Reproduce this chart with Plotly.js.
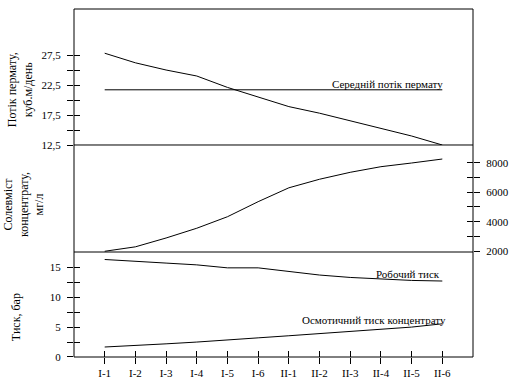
<!DOCTYPE html>
<html>
<head>
<meta charset="utf-8">
<script src="https://cdn.plot.ly/plotly-3.0.1.min.js"></script>
<style>html,body{margin:0;padding:0;background:#fff;}#chart{width:514px;height:382px;}</style>
</head>
<body>
<div id="chart"></div>
<script>
const categories = ['I-1','I-2','I-3','I-4','I-5','I-6','II-1','II-2','II-3','II-4','II-5','II-6'];
const permeateFlux = [27.8, 26.2, 25.0, 24.0, 22.1, 20.5, 18.9, 17.8, 16.5, 15.3, 14.0, 12.5];
const meanPermeateFlux = [21.7, 21.7, 21.7, 21.7, 21.7, 21.7, 21.7, 21.7, 21.7, 21.7, 21.7, 21.7];
const concentrateTDS = [2000, 2300, 2900, 3560, 4340, 5360, 6300, 6880, 7350, 7730, 7980, 8250];
const workingPressure = [16.3, 16.05, 15.7, 15.4, 14.9, 14.9, 14.3, 13.7, 13.3, 13.05, 12.8, 12.7];
const osmoticPressure = [1.67, 1.9, 2.2, 2.5, 2.8, 3.2, 3.55, 3.9, 4.3, 4.6, 5.0, 5.55];

const fluxTickVals = [12.5, 15, 17.5, 20, 22.5, 25, 27.5];
const fluxTickText = ['12,5', '', '17,5', '', '22,5', '', '27,5'];
const tdsTickVals = [2000, 3000, 4000, 5000, 6000, 7000, 8000];
const tdsTickText = ['2000', '', '4000', '', '6000', '', '8000'];
const presTickVals = [0, 2.5, 5, 7.5, 10, 12.5, 15];
const presTickText = ['0', '', '5', '', '10', '', '15'];

const labels = {
  flux: 'Потік пермату,<br>куб.м/день',
  tds: 'Солевміст<br>концентрату,<br>мг/л',
  pres: 'Тиск, бар',
  mean: 'Середній потік пермату',
  working: 'Робочий тиск',
  osmotic: 'Осмотичний тиск концентрату'
};

const xIdx = categories.map((c, i) => i);
const FONT = '"Liberation Serif", "Times New Roman", Times, serif';
const line = {color: '#000', width: 1};

function tr(y, ya) {
  return {x: xIdx, y: y, xaxis: 'x', yaxis: ya, type: 'scatter', mode: 'lines', line: line, hoverinfo: 'skip', showlegend: false};
}

const data = [
  tr(permeateFlux, 'y'),
  tr(meanPermeateFlux, 'y'),
  tr(concentrateTDS, 'y2'),
  tr(workingPressure, 'y3'),
  tr(osmoticPressure, 'y3'),
  {x: [], y: [], xaxis: 'x', yaxis: 'y4', type: 'scatter', showlegend: false},
  {x: [], y: [], xaxis: 'x', yaxis: 'y5', type: 'scatter', showlegend: false},
  {x: [], y: [], xaxis: 'x', yaxis: 'y6', type: 'scatter', showlegend: false},
  {x: [], y: [], xaxis: 'x2', yaxis: 'y3', type: 'scatter', showlegend: false}
];

const d3lo = 0.3017, d2hi = 0.6092;
const xRange = [-1, 12];
const yR1 = [12.5, 35.17], yR2 = [1950, 9200], yR3 = [0, 17.55];
const tickBase = {ticklen: 6, tickwidth: 1, tickcolor: '#000', showgrid: false, zeroline: false, showline: false, fixedrange: true, tickfont: {family: FONT, size: 11, color: '#000'}};

const layout = {
  width: 514, height: 382,
  margin: {l: 74, r: 41, t: 9, b: 25, pad: 0},
  paper_bgcolor: '#fff', plot_bgcolor: '#fff',
  font: {family: FONT, size: 11, color: '#000'},
  showlegend: false,
  xaxis: Object.assign({}, tickBase, {anchor: 'y3', range: xRange, tickmode: 'array', tickvals: xIdx, ticktext: categories, ticks: 'outside', ticklabelstandoff: 0}),
  xaxis2: Object.assign({}, tickBase, {anchor: 'y3', overlaying: 'x', side: 'bottom', range: xRange, tickmode: 'array', tickvals: xIdx, ticks: 'inside', showticklabels: false}),
  yaxis: Object.assign({}, tickBase, {domain: [d2hi, 1], anchor: 'x', range: yR1, tickmode: 'array', tickvals: fluxTickVals, ticktext: fluxTickText, ticks: 'outside', ticklabelstandoff: 4}),
  yaxis4: Object.assign({}, tickBase, {overlaying: 'y', anchor: 'x', side: 'left', range: yR1, tickmode: 'array', tickvals: fluxTickVals, ticks: 'inside', showticklabels: false}),
  yaxis2: Object.assign({}, tickBase, {domain: [d3lo, d2hi], anchor: 'x', side: 'right', range: yR2, tickmode: 'array', tickvals: tdsTickVals, ticktext: tdsTickText, ticks: 'outside', ticklabelstandoff: 4}),
  yaxis5: Object.assign({}, tickBase, {overlaying: 'y2', anchor: 'x', side: 'right', range: yR2, tickmode: 'array', tickvals: tdsTickVals, ticks: 'inside', showticklabels: false}),
  yaxis3: Object.assign({}, tickBase, {domain: [0, d3lo], anchor: 'x', range: yR3, tickmode: 'array', tickvals: presTickVals, ticktext: presTickText, ticks: 'outside', ticklabelstandoff: 4}),
  yaxis6: Object.assign({}, tickBase, {overlaying: 'y3', anchor: 'x', side: 'left', range: yR3, tickmode: 'array', tickvals: presTickVals, ticks: 'inside', showticklabels: false}),
  shapes: [
    {type: 'rect', xref: 'paper', yref: 'paper', x0: 0, x1: 1, y0: 0, y1: 1, line: line, layer: 'above'},
    {type: 'line', xref: 'paper', yref: 'paper', x0: 0, x1: 1, y0: d2hi, y1: d2hi, line: line, layer: 'above'},
    {type: 'line', xref: 'paper', yref: 'paper', x0: 0, x1: 1, y0: d3lo, y1: d3lo, line: line, layer: 'above'}
  ],
  annotations: [
    {xref: 'paper', yref: 'paper', x: -0.135, y: 0.767, text: labels.flux, textangle: -90, showarrow: false, xanchor: 'center', yanchor: 'middle', font: {family: FONT, size: 12}},
    {xref: 'paper', yref: 'paper', x: -0.125, y: 0.437, text: labels.tds, textangle: -90, showarrow: false, xanchor: 'center', yanchor: 'middle', font: {family: FONT, size: 12}},
    {xref: 'paper', yref: 'paper', x: -0.145, y: 0.115, text: labels.pres, textangle: -90, showarrow: false, xanchor: 'center', yanchor: 'middle', font: {family: FONT, size: 12}},
    {xref: 'x', yref: 'y', x: 11.1, y: 21.7, text: labels.mean, showarrow: false, xanchor: 'right', yanchor: 'bottom', yshift: -2, font: {family: FONT, size: 11}},
    {xref: 'x', yref: 'y3', x: 11, y: 12.7, text: labels.working, showarrow: false, xanchor: 'right', yanchor: 'bottom', yshift: -1, font: {family: FONT, size: 11}},
    {xref: 'x', yref: 'y3', x: 11.2, y: 6.2, text: labels.osmotic, showarrow: false, xanchor: 'right', yanchor: 'middle', font: {family: FONT, size: 11}}
  ]
};

Plotly.newPlot('chart', data, layout, {staticPlot: true, displayModeBar: false});
</script>
</body>
</html>
